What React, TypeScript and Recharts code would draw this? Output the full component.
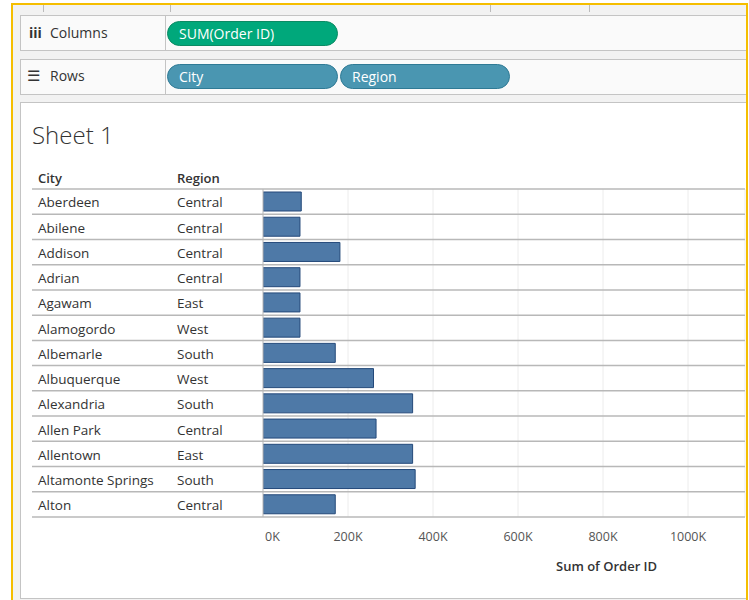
import React from "react";
import { BarChart, Bar, XAxis, YAxis, CartesianGrid } from "recharts";

const cities = [
  "Aberdeen",
  "Abilene",
  "Addison",
  "Adrian",
  "Agawam",
  "Alamogordo",
  "Albemarle",
  "Albuquerque",
  "Alexandria",
  "Allen Park",
  "Allentown",
  "Altamonte Springs",
  "Alton",
];
const regions = [
  "Central",
  "Central",
  "Central",
  "Central",
  "East",
  "West",
  "South",
  "West",
  "South",
  "Central",
  "East",
  "South",
  "Central",
];
const orderIdSum = [
  90000, 87000, 181000, 87000, 87000, 87000, 170000, 260000, 352000, 266000,
  352000, 358000, 170000,
];
const xTicks = [0, 200000, 400000, 600000, 800000, 1000000];

const data = cities.map((c, i) => ({ city: c, region: regions[i], sum: orderIdSum[i] }));

const FONT = "'Open Sans', 'Noto Sans', sans-serif";
const LINE = "#b8b8b8";

const RowTick = (props: any) => {
  const { y, payload, index } = props;
  const half = payload.offset || 12.6;
  return (
    <g>
      {index === 0 && (
        <>
          <line x1={32} x2={745} y1={y - half} y2={y - half} stroke={LINE} strokeWidth={1.5} />
          <text x={38} y={y - half - 6} fontSize={13} fontWeight={600} fill="#333" fontFamily={FONT}>
            City
          </text>
          <text x={177} y={y - half - 6} fontSize={13} fontWeight={600} fill="#333" fontFamily={FONT}>
            Region
          </text>
        </>
      )}
      <line x1={32} x2={745} y1={y + half} y2={y + half} stroke={LINE} strokeWidth={1.5} />
      <text x={38} y={y + 1} dy="0.36em" fontSize={13.5} fill="#333" fontFamily={FONT}>
        {payload.value}
      </text>
      <text x={177} y={y + 1} dy="0.36em" fontSize={13.5} fill="#333" fontFamily={FONT}>
        {regions[index]}
      </text>
    </g>
  );
};

const AxisTick = (props: any) => {
  const { x, y, payload } = props;
  const first = payload.value === 0;
  return (
    <text
      x={first ? x + 2 : x}
      y={y + 16}
      textAnchor={first ? "start" : "middle"}
      fontSize={12.5}
      fill="#555"
      fontFamily={FONT}
    >
      {`${payload.value / 1000}K`}
    </text>
  );
};

const Pill = ({ x, y, w, label, bg, border }: any) => (
  <div
    style={{
      position: "absolute",
      left: x,
      top: y,
      width: w,
      height: 25,
      boxSizing: "border-box",
      borderRadius: 13,
      background: bg,
      border: `1px solid ${border}`,
      color: "#fff",
      fontSize: 14,
      lineHeight: "23px",
      paddingLeft: 11,
      fontFamily: FONT,
    }}
  >
    {label}
  </div>
);

export default function App() {
  return (
    <div
      style={{
        position: "absolute",
        left: 0,
        top: 0,
        width: 749,
        height: 600,
        background: "#fff",
        overflow: "hidden",
        fontFamily: FONT,
      }}
    >
      {/* workspace background inside yellow frame */}
      <div
        style={{
          position: "absolute",
          left: 11,
          top: 3,
          width: 737,
          height: 600,
          boxSizing: "border-box",
          borderLeft: "2px solid #f5be00",
          borderTop: "2px solid #f5be00",
          borderRight: "2px solid #f5be00",
          background: "#f2f2f2",
        }}
      />
      {[43, 170, 490, 589].map((x) => (
        <div key={x} style={{ position: "absolute", left: x, top: 5, width: 1, height: 7, background: "#bbb" }} />
      ))}
      {/* Columns shelf */}
      <div
        style={{
          position: "absolute",
          left: 20,
          top: 15,
          width: 726,
          height: 36,
          boxSizing: "border-box",
          border: "1px solid #c4c4c4",
          borderRight: "none",
          background: "#fafafa",
        }}
      />
      <div style={{ position: "absolute", left: 165, top: 15, width: 1, height: 36, background: "#c4c4c4" }} />
      <div style={{ position: "absolute", left: 29, top: 23, fontSize: 14, fontWeight: 700, color: "#333" }}>iii</div>
      <div style={{ position: "absolute", left: 50, top: 23, fontSize: 14, color: "#333" }}>Columns</div>
      <Pill x={167} y={21} w={171} label="SUM(Order ID)" bg="#00a87b" border="#0b8a63" />
      {/* Rows shelf */}
      <div
        style={{
          position: "absolute",
          left: 20,
          top: 59,
          width: 726,
          height: 36,
          boxSizing: "border-box",
          border: "1px solid #c4c4c4",
          borderRight: "none",
          background: "#fafafa",
        }}
      />
      <div style={{ position: "absolute", left: 165, top: 59, width: 1, height: 36, background: "#c4c4c4" }} />
      <div style={{ position: "absolute", left: 27, top: 65, fontSize: 15, color: "#333" }}>☰</div>
      <div style={{ position: "absolute", left: 50, top: 66, fontSize: 14, color: "#333" }}>Rows</div>
      <Pill x={167} y={64} w={171} label="City" bg="#4a96b1" border="#2f7a95" />
      <Pill x={340} y={64} w={170} label="Region" bg="#4a96b1" border="#2f7a95" />
      {/* sheet */}
      <div
        style={{
          position: "absolute",
          left: 20,
          top: 102,
          width: 726,
          height: 497,
          boxSizing: "border-box",
          border: "1px solid #c4c4c4",
          borderRight: "none",
          background: "#fff",
        }}
      />
      <div style={{ position: "absolute", left: 32, top: 118, fontSize: 24, fontWeight: 300, color: "#333" }}>
        Sheet 1
      </div>
      <div
        style={{
          position: "absolute",
          left: 556,
          top: 557,
          fontSize: 13,
          fontWeight: 600,
          color: "#333",
        }}
      >
        Sum of Order ID
      </div>
      <div style={{ position: "absolute", left: 0, top: 0 }}>
        <BarChart
          width={749}
          height={600}
          data={data}
          layout="vertical"
          margin={{ top: 189, right: 4, bottom: 53, left: 0 }}
        >
          <CartesianGrid stroke="#ececec" horizontal={false} />
          <XAxis
            type="number"
            dataKey="sum"
            domain={[0, 1134000]}
            ticks={xTicks}
            height={30}
            axisLine={false}
            tickLine={false}
            tick={<AxisTick />}
            allowDataOverflow
          />
          <YAxis
            type="category"
            dataKey="city"
            width={263}
            axisLine={{ stroke: "#c0c0c0" }}
            tickLine={false}
            tick={<RowTick />}
            interval={0}
          />
          <Bar
            dataKey="sum"
            barSize={19}
            fill="#4e79a7"
            stroke="#24497a"
            strokeWidth={1}
            isAnimationActive={false}
          />
        </BarChart>
      </div>
    </div>
  );
}
